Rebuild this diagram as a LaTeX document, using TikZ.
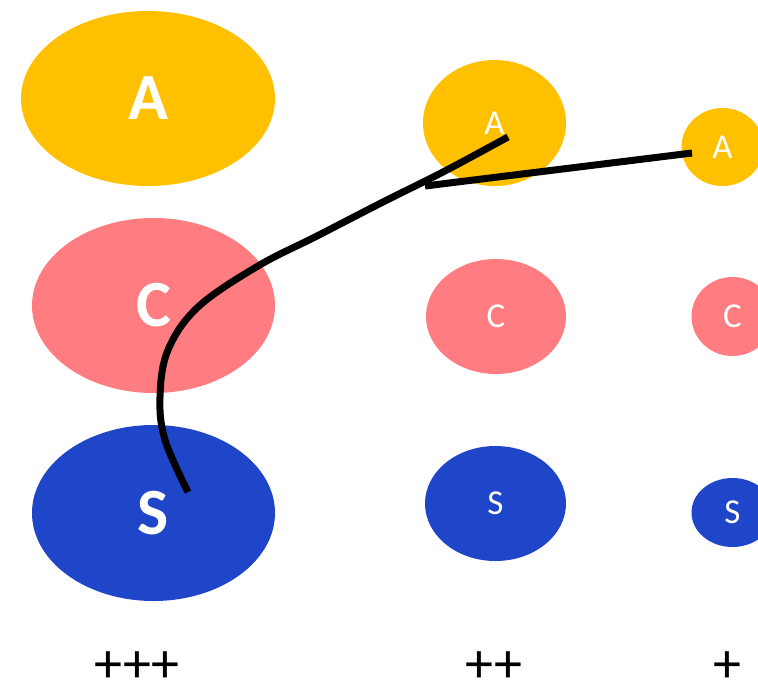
\documentclass[tikz,border=0pt]{standalone}
\usepackage{fontspec}
\setmainfont{Carlito}
\usetikzlibrary{shapes.geometric}
\definecolor{yel}{HTML}{FFC000}
\definecolor{pnk}{HTML}{FF7C80}
\definecolor{blu}{HTML}{1F45C8}
\tikzset{
  ell/.style={ellipse, inner sep=0pt, text=white},
  bigell/.style={ell, font=\fontsize{66}{66}\selectfont\bfseries},
  midell/.style={ell, font=\fontsize{35}{35}\selectfont},
  plusl/.style={font=\fontsize{56}{56}\selectfont, anchor=center, inner sep=0pt},
  stroke/.style={line width=7pt, black}
}
\begin{document}
\begin{tikzpicture}[x=1pt,y=-1pt]
\useasboundingbox (0,0) rectangle (758,683);
\clip (0,0) rectangle (758,683);
% column 1
\node[bigell, fill=yel, minimum width=254pt, minimum height=175pt] (bA) at (148,98.5) {A};
\node[bigell, fill=pnk, minimum width=243pt, minimum height=175pt] (bC) at (153.5,305.5) {C};
\node[bigell, fill=blu, minimum width=243pt, minimum height=176pt] (bS) at (153.5,513) {S};
% column 2
\node[midell, fill=yel, minimum width=143pt, minimum height=126pt] (mA) at (494.5,123) {A};
\node[midell, fill=pnk, minimum width=140pt, minimum height=115pt] (mC) at (496,316.5) {C};
\node[midell, fill=blu, minimum width=141pt, minimum height=115pt] (mS) at (495.5,503.5) {S};
% column 3
\node[midell, fill=yel, minimum width=82pt, minimum height=78pt] (sA) at (722.5,147) {A};
\node[midell, fill=pnk, minimum width=82pt, minimum height=79pt] (sC) at (732.5,316.5) {C};
\node[midell, fill=blu, minimum width=82pt, minimum height=69pt] (sS) at (732.5,512.5) {S};
% labels
\node[plusl] (p3) at (137,667) {+++};
\node[plusl] (p2) at (494,667) {++};
\node[plusl] (p1) at (727,667) {+};
% freehand stroke
\coordinate (c0) at (188,492);
\coordinate (c9) at (508,137);
\coordinate (l0) at (425,186);
\coordinate (l1) at (692,153);
\draw[stroke] plot[smooth, tension=0.6] coordinates {(c0) (165,440) (160,397) (168,350) (198,307) (258,266) (317,236) (383,202) (443,172) (c9)};
\draw[stroke] (l0) -- (l1);
\end{tikzpicture}
\end{document}
